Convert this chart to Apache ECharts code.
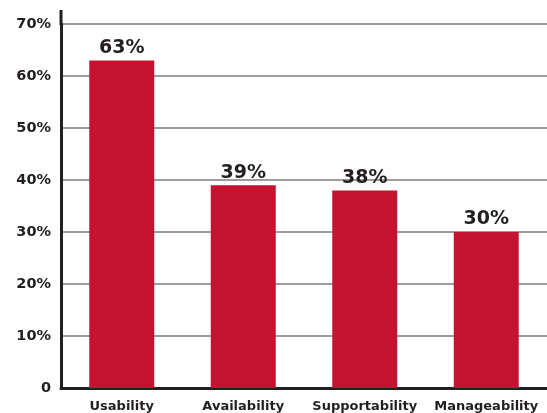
<!DOCTYPE html>
<html>
<head>
<meta charset="utf-8">
<style>
  html, body { margin: 0; padding: 0; background: #fff; }
  #chart { width: 547px; height: 413px; }
</style>
<script src="https://cdn.jsdelivr.net/npm/echarts@6/dist/echarts.min.js"></script>
</head>
<body>
<div id="chart"></div>
<script>
// Share of respondents naming each quality attribute
const categories = ['Usability', 'Availability', 'Supportability', 'Manageability'];
const values = [63, 39, 38, 30];

const FONT = '"DejaVu Sans", "Open Sans", sans-serif';
const INK = '#231f20';

const chart = echarts.init(document.getElementById('chart'), null, { renderer: 'canvas' });

chart.setOption({
  animation: false,
  backgroundColor: '#ffffff',
  grid: { left: 61, right: 0, top: 24, bottom: 25, containLabel: false },
  xAxis: {
    type: 'category',
    data: categories,
    axisLine: { show: true, lineStyle: { color: INK, width: 3 } },
    axisTick: { show: false },
    axisLabel: {
      color: INK, fontFamily: FONT, fontWeight: 'bold', fontSize: 13,
      margin: 12, interval: 0
    }
  },
  yAxis: {
    type: 'value',
    min: 0,
    max: 70,
    interval: 10,
    axisLine: { show: true, lineStyle: { color: INK, width: 3 } },
    axisTick: { show: false },
    axisLabel: {
      color: INK, fontFamily: FONT, fontWeight: 'bold', fontSize: 14.5,
      margin: 10,
      formatter: v => v === 0 ? '0' : v + '%'
    },
    splitLine: { show: true, lineStyle: { color: '#9d9d9f', width: 2 } }
  },
  series: [{
    type: 'bar',
    data: values,
    barWidth: 65,
    itemStyle: { color: '#c41230' },
    label: {
      show: true,
      position: 'top',
      distance: 3,
      color: INK,
      fontFamily: FONT,
      fontWeight: 'bold',
      fontSize: 19,
      formatter: p => p.value + '%'
    }
  }],
  graphic: [{
    // short extension of the vertical axis above the top gridline
    type: 'line',
    shape: { x1: 61, y1: 10, x2: 61, y2: 25 },
    style: { stroke: INK, lineWidth: 3 },
    z: 10
  }]
});
</script>
</body>
</html>
